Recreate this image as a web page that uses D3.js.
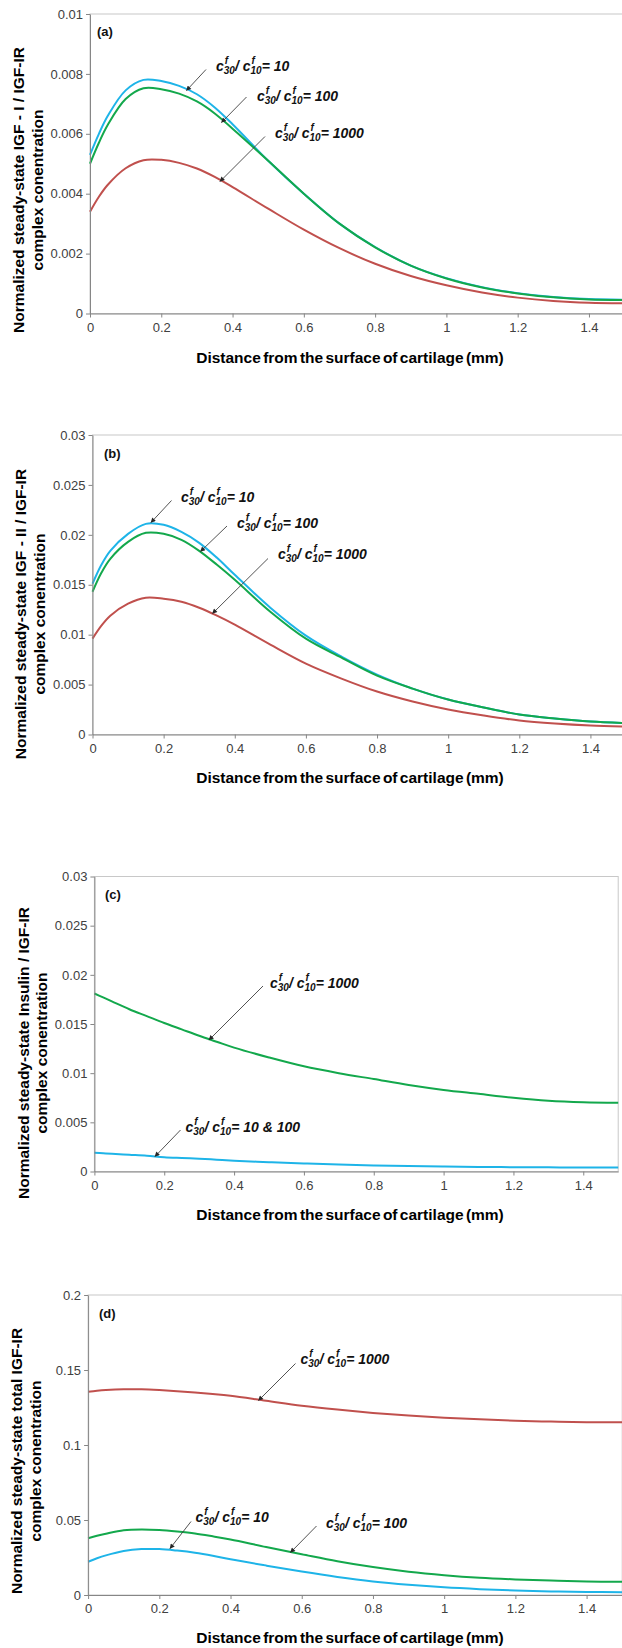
<!DOCTYPE html>
<html>
<head>
<meta charset="utf-8">
<script src="https://cdn.jsdelivr.net/npm/d3@7"></script>
<style>
  html, body { margin: 0; padding: 0; background: #fff; }
  svg { display: block; }
  text { font-family: "Liberation Sans", Arial, sans-serif; }
</style>
</head>
<body>
<svg id="chart" width="622" height="1648"></svg>
<script>
// ---------------- DATA ----------------
const xs = [0, 0.025, 0.05, 0.1, 0.15, 0.2, 0.25, 0.3, 0.35, 0.4, 0.5, 0.6, 0.7, 0.8, 0.9, 1.0, 1.1, 1.2, 1.3, 1.4, 1.5];
const xTicks = [0, 0.2, 0.4, 0.6, 0.8, 1, 1.2, 1.4];
const xTickLabels = ["0", "0.2", "0.4", "0.6", "0.8", "1", "1.2", "1.4"];

// Panel (a) IGF-I / IGF-IR
const aTicks = [0, 0.002, 0.004, 0.006, 0.008, 0.01];
const aTickLabels = ["0", "0.002", "0.004", "0.006", "0.008", "0.01"];
const a10   = [0.0053, 0.0060, 0.0066, 0.00745, 0.00780, 0.00776, 0.00760, 0.00732, 0.00688, 0.00632, 0.0051, 0.0040, 0.0030, 0.00222, 0.0016, 0.00118, 0.00088, 0.00068, 0.00055, 0.00048, 0.00046];
const a100  = [0.0050, 0.0057, 0.0063, 0.00716, 0.00752, 0.00749, 0.00734, 0.00708, 0.00668, 0.00617, 0.0051, 0.0040, 0.0030, 0.00221, 0.0016, 0.00117, 0.00087, 0.00067, 0.00054, 0.00047, 0.00045];
const a1000 = [0.0034, 0.0039, 0.0043, 0.00485, 0.00512, 0.00513, 0.00503, 0.00484, 0.00456, 0.00422, 0.0035, 0.0028, 0.00218, 0.00166, 0.00125, 0.00094, 0.0007, 0.00053, 0.00042, 0.00036, 0.00034];

// Panel (b) IGF-II / IGF-IR
const bTicks = [0, 0.005, 0.01, 0.015, 0.02, 0.025, 0.03];
const bTickLabels = ["0", "0.005", "0.01", "0.015", "0.02", "0.025", "0.03"];
const b10   = [0.0151, 0.0170, 0.0184, 0.0201, 0.0211, 0.0210, 0.0203, 0.0192, 0.0177, 0.0160, 0.0127, 0.0099, 0.0078, 0.0060, 0.0046, 0.0035, 0.0027, 0.0020, 0.0016, 0.0013, 0.00115];
const b100  = [0.0143, 0.0162, 0.0176, 0.0193, 0.0202, 0.0201, 0.0195, 0.0184, 0.0170, 0.0155, 0.0123, 0.0096, 0.0077, 0.0059, 0.0046, 0.0035, 0.0027, 0.0020, 0.0016, 0.0013, 0.00115];
const b1000 = [0.0096, 0.0109, 0.0119, 0.0131, 0.0137, 0.0136, 0.0133, 0.0127, 0.0119, 0.0110, 0.0090, 0.0071, 0.0056, 0.0043, 0.0033, 0.0025, 0.0019, 0.0014, 0.0011, 0.0009, 0.0008];

// Panel (c) Insulin / IGF-IR
const cTicks = [0, 0.005, 0.01, 0.015, 0.02, 0.025, 0.03];
const cTickLabels = ["0", "0.005", "0.01", "0.015", "0.02", "0.025", "0.03"];
const c1000  = [0.0181, 0.0177, 0.0173, 0.0165, 0.0158, 0.0151, 0.01445, 0.0138, 0.0132, 0.0126, 0.0116, 0.0107, 0.0100, 0.0094, 0.0088, 0.0083, 0.0079, 0.0075, 0.0072, 0.00705, 0.0070];
const c10_100 = [0.0019, 0.00185, 0.0018, 0.0017, 0.0016, 0.00145, 0.00137, 0.0013, 0.0012, 0.0011, 0.00095, 0.00082, 0.0007, 0.00062, 0.00055, 0.0005, 0.00046, 0.00044, 0.00042, 0.0004, 0.0004];

// Panel (d) total IGF-IR
const dTicks = [0, 0.05, 0.1, 0.15, 0.2];
const dTickLabels = ["0", "0.05", "0.1", "0.15", "0.2"];
const d10   = [0.0222, 0.0245, 0.0264, 0.0293, 0.0306, 0.0306, 0.0296, 0.0282, 0.0262, 0.0238, 0.0196, 0.0156, 0.0120, 0.0090, 0.0068, 0.0051, 0.0039, 0.0030, 0.0024, 0.0020, 0.0019];
const d100  = [0.0378, 0.0395, 0.0409, 0.0432, 0.0437, 0.0433, 0.0423, 0.0410, 0.0391, 0.0370, 0.0320, 0.0272, 0.0225, 0.0186, 0.0155, 0.0132, 0.0115, 0.0104, 0.0096, 0.0090, 0.0088];
const d1000 = [0.1355, 0.1362, 0.1367, 0.1372, 0.1371, 0.1366, 0.1359, 0.1350, 0.1340, 0.1328, 0.1295, 0.1262, 0.1236, 0.1214, 0.1196, 0.1182, 0.1171, 0.1162, 0.1156, 0.1152, 0.1151];

const xTitle = "Distance from the surface of cartilage (mm)";

// ---------------- STYLE / LAYOUT ----------------
const BLUE = "#1eb4e8", GREEN = "#13a84c", RED = "#c0504d";

const panels = [
  { tag: "(a)", x0: 90, x1: 624.6, y0: 313.5, y1: 14, ymax: 0.01, ticks: aTicks, tickLabels: aTickLabels,
    series: [{v: a10, c: BLUE}, {v: a100, c: GREEN}, {v: a1000, c: RED}],
    title: ["Normalized steady-state IGF - I / IGF-IR", "complex conentration"], tx: [23.5, 43], ty: 190, xty: 363,
    tagPos: [97, 36],
    notes: [
      {t: "10",   lx: 216, ly: 71,  from: [206, 69.5], to: [186.5, 90.5]},
      {t: "100",  lx: 257, ly: 101, from: [246.5, 97], to: [221.5, 122.5]},
      {t: "1000", lx: 275, ly: 137.5, from: [265, 136.5], to: [220, 181.5]}
    ]},
  { tag: "(b)", x0: 92.5, x1: 626, y0: 734.5, y1: 435, ymax: 0.03, ticks: bTicks, tickLabels: bTickLabels,
    series: [{v: b10, c: BLUE}, {v: b100, c: GREEN}, {v: b1000, c: RED}],
    title: ["Normalized steady-state IGF - II / IGF-IR", "complex conentration"], tx: [26, 45], ty: 614, xty: 783,
    tagPos: [104, 458],
    notes: [
      {t: "10",   lx: 181, ly: 501.5, from: [171.5, 500.5], to: [151, 522.5]},
      {t: "100",  lx: 237, ly: 528,   from: [227, 526],     to: [200.5, 551.5]},
      {t: "1000", lx: 278, ly: 559,   from: [268, 558.5],   to: [212.5, 613.5]}
    ]},
  { tag: "(c)", x0: 94.4, x1: 618.2, y0: 1171.5, y1: 876.5, ymax: 0.03, ticks: cTicks, tickLabels: cTickLabels,
    series: [{v: c1000, c: GREEN}, {v: c10_100, c: BLUE}],
    title: ["Normalized steady-state Insulin / IGF-IR", "complex conentration"], tx: [29, 47], ty: 1053, xty: 1220,
    tagPos: [105, 899],
    notes: [
      {t: "1000",     lx: 270, ly: 987.5,  from: [263, 986],   to: [209, 1040]},
      {t: "10 & 100", lx: 185.5, ly: 1132, from: [180.5, 1130], to: [155, 1156.5]}
    ]},
  { tag: "(d)", x0: 88.1, x1: 622.2, y0: 1595, y1: 1295, ymax: 0.2, ticks: dTicks, tickLabels: dTickLabels,
    series: [{v: d1000, c: RED}, {v: d100, c: GREEN}, {v: d10, c: BLUE}],
    title: ["Normalized steady-state total IGF-IR", "complex conentration"], tx: [22, 40.5], ty: 1461, xty: 1643,
    tagPos: [99, 1318],
    notes: [
      {t: "1000", lx: 300.5, ly: 1364,  from: [295.5, 1363.5], to: [258.5, 1400.5]},
      {t: "10",   lx: 195.5, ly: 1521.5, from: [191, 1521.5],  to: [170, 1548.5]},
      {t: "100",  lx: 326,   ly: 1528,  from: [316.5, 1526],   to: [290.5, 1552.5]}
    ]}
];

const svg = d3.select("#chart");
svg.append("rect").attr("width", 622).attr("height", 1648).attr("fill", "#fff");

const defs = svg.append("defs");
defs.append("marker").attr("id", "ah")
  .attr("viewBox", "0 0 10 10").attr("refX", 9).attr("refY", 5)
  .attr("markerWidth", 6).attr("markerHeight", 5).attr("markerUnits", "userSpaceOnUse")
  .attr("orient", "auto")
  .append("path").attr("d", "M0,0 L10,5 L0,10 Z").attr("fill", "#262626");

function addNote(g, n) {
  g.append("line")
    .attr("x1", n.from[0]).attr("y1", n.from[1])
    .attr("x2", n.to[0]).attr("y2", n.to[1])
    .attr("stroke", "#404040").attr("stroke-width", 0.9)
    .attr("marker-end", "url(#ah)");
  const t = g.append("text").attr("x", n.lx).attr("y", n.ly)
    .attr("font-size", 14).attr("font-weight", "bold").attr("font-style", "italic").attr("fill", "#111");
  const sub = 10, w2 = 2 * 0.556 * sub, wf = 0.333 * sub;
  t.append("tspan").text("c");
  t.append("tspan").attr("font-size", sub).attr("dy", 3).text("30");
  t.append("tspan").attr("font-size", sub).attr("dx", -w2 + 1).attr("dy", -10).text("f");
  t.append("tspan").attr("dx", w2 - wf - 1).attr("dy", 7).text("/ c");
  t.append("tspan").attr("font-size", sub).attr("dy", 3).text("10");
  t.append("tspan").attr("font-size", sub).attr("dx", -w2 + 1).attr("dy", -10).text("f");
  t.append("tspan").attr("dx", w2 - wf - 1).attr("dy", 7).text("= " + n.t);
}

panels.forEach(p => {
  const g = svg.append("g");
  const x = d3.scaleLinear().domain([0, 1.5]).range([p.x0, p.x1]);
  const y = d3.scaleLinear().domain([0, p.ymax]).range([p.y0, p.y1]);

  // plot border (top / right)
  g.append("rect").attr("x", p.x0).attr("y", p.y1)
    .attr("width", p.x1 - p.x0).attr("height", p.y0 - p.y1)
    .attr("fill", "none").attr("stroke", "#c8c8c8").attr("stroke-width", 1);

  // series
  const line = d3.line().x((d, i) => x(xs[i])).y(d => y(d)).curve(d3.curveCatmullRom.alpha(0.5));
  p.series.forEach(s => {
    g.append("path").attr("d", line(s.v)).attr("fill", "none")
      .attr("stroke", s.c).attr("stroke-width", 2);
  });

  // axes
  const xa = g.append("g").attr("transform", `translate(0,${p.y0})`)
    .call(d3.axisBottom(x).tickValues(xTicks).tickFormat((d, i) => xTickLabels[i])
      .tickSizeInner(4).tickSizeOuter(0).tickPadding(5));
  const ya = g.append("g").attr("transform", `translate(${p.x0},0)`)
    .call(d3.axisLeft(y).tickValues(p.ticks).tickFormat((d, i) => p.tickLabels[i])
      .tickSizeInner(4).tickSizeOuter(0).tickPadding(3));
  [xa, ya].forEach(a => {
    a.select(".domain").attr("stroke", "#868686");
    a.selectAll(".tick line").attr("stroke", "#868686");
    a.selectAll(".tick text").attr("fill", "#404040").attr("font-size", 13)
      .attr("font-family", "'Liberation Sans', Arial, sans-serif");
  });

  // panel tag
  g.append("text").attr("x", p.tagPos[0]).attr("y", p.tagPos[1])
    .attr("font-size", 13).attr("font-weight", "bold").attr("fill", "#111").text(p.tag);

  // y title (two lines)
  p.title.forEach((tl, i) => {
    g.append("text")
      .attr("transform", `translate(${p.tx[i]},${p.ty}) rotate(-90)`)
      .attr("text-anchor", "middle").attr("font-size", 15.5).attr("font-weight", "bold")
      .attr("fill", "#000").text(tl);
  });

  // x title
  g.append("text").attr("x", 350).attr("y", p.xty).attr("text-anchor", "middle")
    .attr("font-size", 15.5).attr("font-weight", "bold").attr("fill", "#000")
    .attr("word-spacing", -2).text(xTitle);

  p.notes.forEach(n => addNote(g, n));
});
</script>
</body>
</html>
